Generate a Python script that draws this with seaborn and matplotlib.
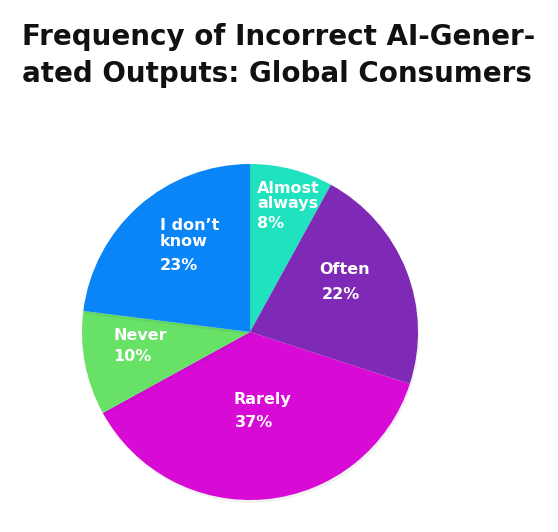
import matplotlib
matplotlib.use("Agg")
import matplotlib.pyplot as plt
import matplotlib.patheffects as pe
import seaborn as sns

categories = ["Almost\nalways", "Often", "Rarely", "Never", "I don\u2019t\nknow"]
shares = [8, 22, 37, 10, 23]
pct_labels = ["8%", "22%", "37%", "10%", "23%"]
colors = ["#1FE2BE", "#7E2AB6", "#D80BD6", "#67E266", "#0A85F7"]

# label placement in pie units (radius = 1), left aligned
label_pos = [(0.042, 0.81), (0.41, 0.37), (-0.10, -0.40), (-0.815, -0.02), (-0.536, 0.585)]
pct_pos = [(0.042, 0.643), (0.43, 0.226), (-0.09, -0.536), (-0.815, -0.143), (-0.536, 0.393)]

sns.set_theme(style="white")
plt.rcParams["font.family"] = ["DejaVu Sans"]
palette = sns.color_palette(colors)

fig = plt.figure(figsize=(5.58, 5.32), dpi=100)
fig.text(22 / 558, 1 - 23 / 532,
         "Frequency of Incorrect AI-Gener-\nated Outputs: Global Consumers",
         ha="left", va="top", fontsize=20, fontweight="bold",
         color="#111111", linespacing=1.42)

ax = fig.add_axes([(250 - 168) / 558, (532 - 332 - 168) / 532, 336 / 558, 336 / 532])
wedges, _ = ax.pie(shares, colors=palette, startangle=90, counterclock=False,
                   radius=1, wedgeprops=dict(linewidth=0))
for w in wedges:
    w.set_path_effects([pe.SimplePatchShadow(offset=(1, -2), shadow_rgbFace="#000000", alpha=0.05),
                        pe.Normal()])
ax.set_xlim(-1, 1)
ax.set_ylim(-1, 1)
ax.axis("off")

for (lx, ly), (px, py), lab, pct in zip(label_pos, pct_pos, categories, pct_labels):
    ax.text(lx, ly, lab, ha="left", va="center", color="white",
            fontsize=11.5, fontweight="bold", linespacing=1.05)
    ax.text(px, py, pct, ha="left", va="center", color="white",
            fontsize=11.5, fontweight="bold")

fig.savefig("out.png", dpi=100, facecolor="white")
